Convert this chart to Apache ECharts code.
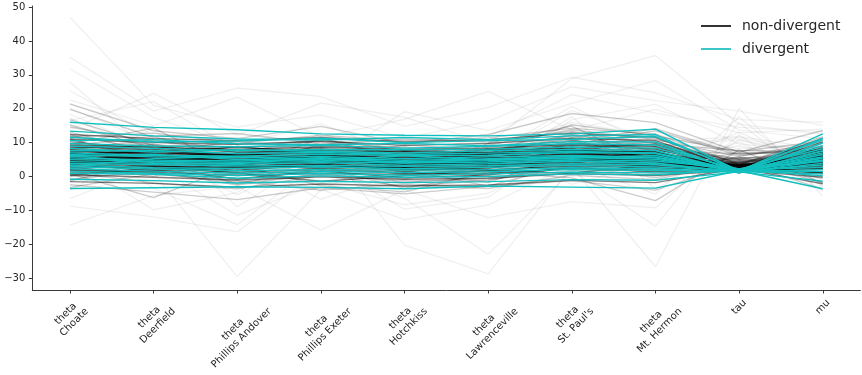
<!DOCTYPE html>
<html>
<head>
<meta charset="utf-8">
<script src="https://cdn.jsdelivr.net/npm/echarts@6/dist/echarts.min.js"></script>
<style>
  html, body { margin: 0; padding: 0; background: #fff; }
  #chart { width: 862px; height: 375px; }
</style>
</head>
<body>
<div id="chart"></div>
<script>
// axis names of the parallel plot
const axisNames = [
  'theta\nChoate', 'theta\nDeerfield', 'theta\nPhillips Andover', 'theta\nPhillips Exeter',
  'theta\nHotchkiss', 'theta\nLawrenceville', "theta\nSt. Paul's", 'theta\nMt. Hermon',
  'tau', 'mu'
]
const yTicks = [-30, -20, -10, 0, 10, 20, 30, 40, 50]

// one row per sample: [Choate, Deerfield, Andover, Exeter, Hotchkiss, Lawrenceville, St. Paul's, Mt. Hermon, tau, mu]
const nonDivergent = [
  [5.1, 4.6, 4.2, 4.8, 4.0, 4.3, 5.5, 4.9, 1.2, 4.7],
  [3.2, 3.0, 2.5, 2.9, 2.6, 2.8, 3.6, 3.1, 1.5, 3.0],
  [7.4, 6.9, 6.5, 7.0, 6.3, 6.6, 7.8, 7.1, 1.8, 6.9],
  [6.0, 5.2, 4.9, 5.5, 4.6, 5.0, 6.4, 5.6, 2.1, 5.3],
  [1.8, 1.2, 0.4, 1.0, 0.6, 0.9, 2.3, 1.5, 2.0, 1.1],
  [9.3, 8.6, 8.0, 8.7, 7.9, 8.2, 9.6, 8.8, 1.6, 8.5],
  [4.4, 3.1, 2.9, 3.8, 2.4, 3.3, 5.0, 3.9, 2.6, 3.6],
  [8.1, 7.0, 6.2, 7.4, 6.0, 6.5, 8.6, 7.3, 2.9, 7.1],
  [2.6, 2.9, 1.3, 2.1, 1.0, 1.7, 3.4, 2.5, 2.3, 2.2],
  [11.0, 10.1, 9.5, 10.4, 9.2, 9.8, 11.3, 10.6, 2.2, 10.2],
  [0.5, -0.2, -1.0, -0.1, -0.8, -0.5, 0.9, 0.3, 1.9, -0.2],
  [6.8, 6.1, 5.0, 6.3, 5.4, 5.7, 7.5, 6.0, 3.1, 6.1],
  [5.6, 4.9, 3.8, 4.4, 3.5, 4.0, 6.1, 5.2, 3.4, 4.6],
  [3.9, 4.4, 3.0, 3.6, 2.1, 2.7, 4.8, 3.4, 2.7, 3.5],
  [7.9, 5.8, 5.3, 6.6, 5.1, 6.0, 8.3, 6.9, 3.6, 6.4],
  [4.7, 5.5, 4.5, 5.2, 4.8, 4.6, 5.2, 5.8, 1.4, 5.0],
  [12.4, 11.2, 10.6, 11.5, 10.2, 10.9, 12.8, 11.6, 2.5, 11.3],
  [-1.5, -2.0, -3.1, -2.2, -2.8, -2.5, -1.1, -1.8, 2.4, -2.1],
  [5.3, 6.2, 6.7, 5.9, 5.5, 6.1, 5.8, 6.4, 1.3, 6.0],
  [2.0, 1.5, 2.6, 3.2, 2.3, 2.0, 3.0, 2.8, 1.7, 2.4],
  [6.5, 7.3, 7.8, 6.9, 7.6, 7.1, 7.0, 6.8, 1.1, 7.2],
  [4.0, 5.0, 5.6, 4.6, 5.3, 5.8, 4.5, 5.1, 1.6, 5.2],
  [6.9, 5.4, 4.1, 5.8, 3.6, 4.5, 7.7, 5.9, 3.2, 5.2],
  [4.1, 3.3, 1.9, 3.5, 2.2, 2.5, 5.2, 4.2, 2.8, 3.3],
  [8.7, 7.4, 5.9, 6.8, 5.2, 6.4, 9.5, 7.9, 3.9, 6.9],
  [2.4, 3.8, 0.2, 2.7, 0.9, 1.3, 4.0, 3.2, 3.5, 2.2],
  [7.1, 4.6, 6.3, 5.3, 4.5, 5.6, 6.7, 6.2, 2.4, 5.6],
  [5.8, 6.9, 3.7, 6.1, 4.3, 3.9, 7.3, 5.0, 3.0, 5.3],
  [10.2, 8.0, 6.8, 8.3, 7.2, 7.9, 10.7, 8.9, 3.7, 8.2],
  [3.7, 2.2, 2.8, 4.3, 1.5, 3.1, 4.9, 2.7, 2.6, 3.2],
  [9.0, 7.7, 8.6, 7.3, 6.2, 7.2, 8.4, 9.5, 2.9, 7.8],
  [1.0, 2.1, -0.6, 1.6, -0.3, 0.5, 2.6, 1.9, 3.3, 1.0],
  [6.4, 5.6, 5.2, 4.7, 5.9, 4.4, 6.8, 5.3, 1.9, 5.4],
  [4.6, 4.0, 3.3, 5.0, 3.2, 3.7, 5.7, 4.4, 2.2, 4.1],
  [7.7, 6.5, 4.4, 6.4, 4.9, 5.5, 8.0, 6.6, 3.4, 6.0],
  [5.2, 5.9, 4.0, 4.5, 3.8, 4.8, 6.5, 4.8, 2.0, 4.8],
  [8.4, 8.9, 7.2, 7.9, 7.4, 6.7, 9.2, 8.1, 2.5, 7.9],
  [3.0, 4.7, 3.5, 2.4, 2.9, 3.6, 3.9, 3.8, 1.8, 3.5],
  [11.8, 9.4, 7.8, 9.3, 8.0, 8.6, 12.1, 9.9, 4.1, 9.2],
  [0.0, 0.9, -1.7, 0.6, -1.3, -0.9, 1.7, 0.4, 3.6, 0.1],
  [6.6, 7.6, 6.4, 5.7, 6.6, 6.8, 7.2, 7.4, 1.5, 6.7],
  [4.9, 3.5, 4.7, 4.2, 2.8, 4.1, 5.4, 4.7, 2.3, 4.3],
  [9.8, 6.4, 3.5, 5.9, 2.8, 4.1, 10.2, 6.7, 4.5, 5.6],
  [2.1, 4.3, 0.7, 3.6, 1.2, 0.4, 5.8, 2.9, 3.9, 2.5],
  [12.3, 7.5, 5.8, 8.6, 6.2, 7.0, 11.5, 9.1, 5.2, 8.0],
  [-0.8, 1.6, -2.5, 0.9, -1.7, -0.3, 2.8, 1.4, 4.2, 0.6],
  [8.5, 9.7, 4.2, 7.1, 5.6, 3.8, 9.9, 8.3, 4.8, 6.6],
  [14.6, 10.2, 8.4, 11.0, 7.6, 9.3, 13.8, 10.9, 5.9, 10.1],
  [6.3, 2.4, 1.8, 3.9, 0.5, 2.6, 7.4, 4.7, 4.4, 3.7],
  [3.4, 6.6, 2.2, 5.4, 4.1, 1.9, 4.6, 7.8, 3.7, 4.3],
  [10.9, 5.3, 7.7, 4.5, 3.1, 6.8, 8.9, 5.0, 5.5, 6.3],
  [1.2, -1.9, -3.6, 0.3, -2.9, -1.1, 3.2, -0.4, 4.9, -0.6],
  [7.2, 8.8, 9.6, 10.3, 6.5, 8.1, 9.0, 11.2, 3.8, 8.7],
  [16.8, 9.1, 4.6, 8.2, 5.3, 6.9, 12.6, 7.5, 6.8, 7.9],
  [4.8, 3.7, -0.9, 2.2, 1.5, -1.8, 6.9, 3.5, 5.1, 2.4],
  [5.5, 7.9, 6.1, 3.3, 7.3, 5.2, 4.0, 6.5, 3.3, 5.7],
  [11.7, 12.8, 9.9, 12.1, 10.6, 11.4, 14.2, 12.6, 3.5, 11.8],
  [0.3, 2.7, 1.1, -1.4, 0.2, 1.8, 1.0, 3.6, 3.0, 1.2],
  [8.9, 4.2, 2.4, 6.1, 3.9, 5.0, 10.8, 2.6, 5.6, 5.1],
  [13.1, 6.9, 10.5, 7.8, 4.4, 8.7, 9.4, 13.5, 6.2, 8.8],
  [-3.2, 0.8, -1.3, -4.0, -2.2, -3.5, 0.4, -0.9, 4.6, -1.7],
  [6.7, 9.3, 3.2, 8.0, 6.8, 7.5, 11.1, 4.3, 4.1, 7.0],
  [19.8, 11.6, 7.3, 10.7, 8.2, 6.6, 15.3, 12.0, 7.4, 10.4],
  [2.9, 0.1, 4.8, 1.9, -0.7, 3.0, 4.2, 0.8, 3.9, 2.1],
  [9.1, 11.9, 12.7, 9.6, 11.0, 10.2, 13.3, 9.8, 3.6, 10.8],
  [7.6, 3.4, 0.9, 5.2, 1.6, 2.3, 6.0, 8.4, 5.3, 4.2],
  [4.2, 6.0, 8.9, 6.7, 3.7, 8.2, 7.1, 5.4, 3.4, 6.2],
  [15.2, 8.3, 2.7, 9.4, 6.9, 4.5, 10.6, 14.1, 6.6, 7.8],
  [-2.4, -4.6, -6.8, -3.3, -5.1, -2.9, -1.2, -4.0, 4.3, -3.7],
  [10.4, 7.6, 5.4, 9.0, 8.7, 6.3, 12.2, 6.1, 4.0, 7.9],
  [3.6, 1.8, 3.9, 6.3, 2.7, 4.7, 5.5, 4.0, 3.1, 3.9],
  [8.0, 10.8, 7.1, 4.9, 9.4, 7.7, 8.5, 10.1, 4.2, 8.3],
  [21.4, 13.5, 11.2, 14.8, 9.7, 12.4, 18.6, 15.9, 7.2, 13.6],
  [1.7, 5.1, -2.2, 2.6, -3.4, 0.9, 4.4, 2.0, 5.7, 1.3],
  [6.1, 4.7, 6.9, 7.6, 4.2, 3.6, 8.1, 5.9, 3.0, 5.6],
  [25.3, 12.1, 1.5, 8.8, -2.6, 4.7, 19.5, 10.3, 11.8, 8.1],
  [-6.5, 3.2, -11.4, -1.8, -8.3, -4.9, 6.7, 0.9, 10.2, -1.2],
  [31.8, 17.4, 9.3, 15.6, 6.1, 11.8, 24.2, 18.7, 14.5, 13.2],
  [12.7, -3.5, -14.2, 4.3, -9.6, -6.1, 10.4, 2.8, 13.1, 1.9],
  [18.4, 8.1, 0.2, 12.9, 3.5, -1.6, 16.8, 21.3, 9.6, 7.4],
  [-4.1, 9.5, 5.8, -6.7, 1.4, 8.9, -2.3, 4.6, 9.1, 3.3],
  [47.0, 21.0, 14.6, 18.2, 11.4, 16.3, 26.5, 22.4, 19.3, 15.1],
  [7.9, 1.1, -29.5, -3.8, -12.7, -8.4, 3.6, -5.2, 17.6, -2.9],
  [22.6, 15.0, 23.4, 11.6, 16.9, 25.1, 13.7, 19.8, 12.9, 14.0],
  [5.4, -9.8, -4.7, 10.6, -20.2, -28.7, 2.9, -26.6, 20.1, -5.8],
  [13.9, 24.5, 12.2, 21.7, 17.5, 9.7, 28.9, 35.7, 15.4, 12.5],
  [-14.3, -5.6, -2.9, -15.8, -3.9, -12.1, -7.4, -9.2, 12.3, -4.3],
  [35.2, 19.3, 26.1, 23.6, 14.8, 20.4, 29.3, 24.7, 16.8, 16.0],
  [3.0, 14.2, -8.9, 6.4, -1.1, 2.2, 17.7, -3.7, 10.8, 4.9],
  [27.9, 6.4, 4.1, -4.3, 8.8, 0.7, 13.2, 9.0, 11.5, 6.6],
  [-8.7, -11.9, -16.3, 2.1, -6.4, -22.9, 1.8, -14.6, 15.9, -3.1],
  [16.5, 22.1, 8.0, 3.4, 19.1, 13.6, 21.6, 28.3, 13.7, 11.2],
  [11.3, 3.7, 6.6, 8.4, 0.8, 9.7, 14.9, 3.3, 7.0, 6.8],
  [-1.3, 4.9, 1.6, 6.9, 2.0, -2.8, 3.7, 6.4, 5.0, 2.3],
  [20.2, 9.9, 11.5, 6.2, 10.3, 7.9, 16.0, 11.8, 8.3, 9.5],
  [9.6, 14.3, 2.1, 11.3, 4.9, 3.4, 7.8, 9.7, 7.7, 7.3],
  [0.9, -6.2, 3.4, -2.7, -4.5, 1.3, -0.4, -7.1, 7.9, -1.9],
  [17.3, 6.8, -5.4, 7.2, 1.9, 5.9, 20.7, 8.6, 10.9, 6.0]
]

const divergent = [
  [16.0, 14.5, 13.8, 12.6, 12.2, 12.0, 12.6, 14.0, 1.6, 12.6],
  [13.4, 12.0, 11.1, 10.8, 11.5, 10.9, 12.0, 12.4, 1.4, 11.3],
  [11.6, 10.2, 10.5, 11.3, 10.0, 10.6, 11.0, 11.8, 1.9, 10.8],
  [10.6, 10.9, 9.7, 9.4, 9.8, 9.1, 10.3, 10.2, 1.2, 9.9],
  [9.8, 9.0, 8.8, 9.2, 8.4, 8.9, 9.7, 9.3, 1.7, 9.1],
  [9.0, 8.3, 7.6, 8.0, 7.9, 8.1, 8.7, 8.4, 2.2, 8.2],
  [8.3, 7.2, 7.9, 7.4, 7.0, 7.6, 8.0, 7.7, 1.3, 7.6],
  [7.6, 7.7, 6.8, 7.1, 6.5, 6.9, 7.4, 7.0, 1.8, 7.0],
  [7.0, 6.2, 6.0, 6.6, 6.2, 6.3, 7.1, 6.8, 1.5, 6.5],
  [6.5, 5.8, 5.5, 5.9, 5.3, 5.8, 6.2, 5.7, 2.0, 5.8],
  [6.0, 6.6, 5.0, 5.4, 4.8, 5.1, 6.0, 5.5, 1.4, 5.4],
  [5.5, 4.9, 4.6, 5.0, 4.4, 4.7, 5.6, 5.1, 1.7, 4.9],
  [5.0, 4.5, 4.2, 4.4, 4.0, 4.3, 5.0, 4.6, 2.3, 4.5],
  [4.4, 3.9, 3.6, 4.1, 3.3, 3.8, 4.5, 4.0, 1.2, 3.9],
  [3.9, 3.5, 3.1, 3.3, 3.0, 3.2, 3.8, 3.5, 1.6, 3.4],
  [3.4, 2.6, 2.4, 2.9, 2.3, 2.7, 3.3, 2.8, 1.9, 2.7],
  [2.9, 2.2, 1.7, 2.1, 1.9, 2.0, 2.6, 2.3, 1.3, 2.1],
  [2.3, 1.6, 1.0, 1.5, 1.2, 1.4, 2.1, 1.8, 1.8, 1.5],
  [1.6, 1.0, 0.3, 0.9, 0.4, 0.8, 1.3, 1.1, 1.5, 0.8],
  [1.0, 0.7, -0.5, 0.2, -0.2, 0.0, 0.8, 0.5, 2.1, 0.2],
  [-0.8, -1.2, -1.9, -1.4, -1.8, -1.5, -0.9, -1.1, 1.4, -1.4],
  [-3.5, -3.3, -3.0, -3.2, -3.6, -2.8, -3.1, -3.4, 1.7, -3.6],
  [6.2, 4.1, 3.8, 5.6, 4.0, 5.2, 4.6, 3.9, 1.1, 4.7],
  [3.0, 5.3, 5.9, 4.6, 6.1, 4.9, 5.4, 6.2, 1.5, 5.5]
]

const FONT = 'DejaVu Sans'
const TEXT = '#262626'
const X_MIN = -0.45
const X_MAX = 9.45
const Y_MIN = -33.45
const Y_MAX = 50.3

const chart = echarts.init(document.getElementById('chart'))

// the reference is a density of ~thousands of faint draws; with a few dozen
// rows we fake that by letting the tight (small tau) draws stack darker
function drawOpacity(row) {
  const tau = row[8]
  if (tau < 3.5) return 0.5
  if (tau < 8) return 0.2
  return 0.06
}

const series = []
nonDivergent.forEach(row => {
  series.push({
    name: 'non-divergent',
    type: 'line',
    data: row.map((v, i) => [i, v]),
    symbol: 'none',
    silent: true,
    z: 2,
    itemStyle: { color: '#333333' },
    lineStyle: { color: '#000000', width: 1.4, opacity: drawOpacity(row) }
  })
})
divergent.forEach(row => {
  series.push({
    name: 'divergent',
    type: 'line',
    data: row.map((v, i) => [i, v]),
    symbol: 'none',
    silent: true,
    z: 3,
    itemStyle: { color: '#3cc8c8' },
    lineStyle: { color: '#12bfbf', width: 1.4, opacity: 1 }
  })
})

chart.setOption({
  animation: false,
  textStyle: { fontFamily: FONT },
  grid: { left: 32.3, right: 1.6, top: 6, bottom: 85 },
  legend: {
    orient: 'vertical',
    left: 696,
    top: 14,
    itemWidth: 30,
    itemHeight: 2,
    itemGap: 9,
    textStyle: { fontSize: 14, color: TEXT, fontFamily: FONT, padding: [0, 0, 0, 6] },
    data: [
      { name: 'non-divergent', icon: 'rect', itemStyle: { color: '#333333', opacity: 1 } },
      { name: 'divergent', icon: 'rect', itemStyle: { color: '#3cc8c8', opacity: 1 } }
    ]
  },
  xAxis: {
    type: 'value',
    min: X_MIN,
    max: X_MAX,
    axisLine: { show: true, onZero: false, lineStyle: { color: '#3a3a3a', width: 1 } },
    axisTick: { show: true, length: 3.5, customValues: axisNames.map((n, i) => i), lineStyle: { color: '#3a3a3a' } },
    axisLabel: { show: false },
    splitLine: { show: false }
  },
  yAxis: {
    type: 'value',
    min: Y_MIN,
    max: Y_MAX,
    axisLine: { show: true, onZero: false, lineStyle: { color: '#3a3a3a', width: 1 } },
    axisTick: { show: true, length: 3.5, customValues: yTicks, lineStyle: { color: '#3a3a3a' } },
    axisLabel: {
      customValues: yTicks,
      fontSize: 10,
      color: TEXT,
      fontFamily: FONT,
      margin: 7,
      formatter: v => (v < 0 ? '\u2212' + Math.abs(v) : String(v))
    },
    splitLine: { show: false }
  },
  series: series
})

// rotated category labels, bounding box centred under each tick (matplotlib style)
const ctx = document.createElement('canvas').getContext('2d')
ctx.font = '10px "' + FONT + '"'
const labels = axisNames.map((name, i) => {
  const lines = name.split('\n')
  const w = Math.max(...lines.map(s => ctx.measureText(s).width))
  const h = lines.length * 12
  const p = chart.convertToPixel({ gridIndex: 0 }, [i, Y_MIN])
  const half = (w + h) / (2 * Math.SQRT2)
  return {
    type: 'text',
    silent: true,
    x: p[0],
    y: p[1] + 7 + half,
    rotation: Math.PI / 4,
    style: {
      text: name,
      fontSize: 10,
      fontFamily: FONT,
      fill: TEXT,
      align: 'center',
      verticalAlign: 'middle',
      lineHeight: 12
    }
  }
})
chart.setOption({ graphic: labels })
</script>
</body>
</html>
